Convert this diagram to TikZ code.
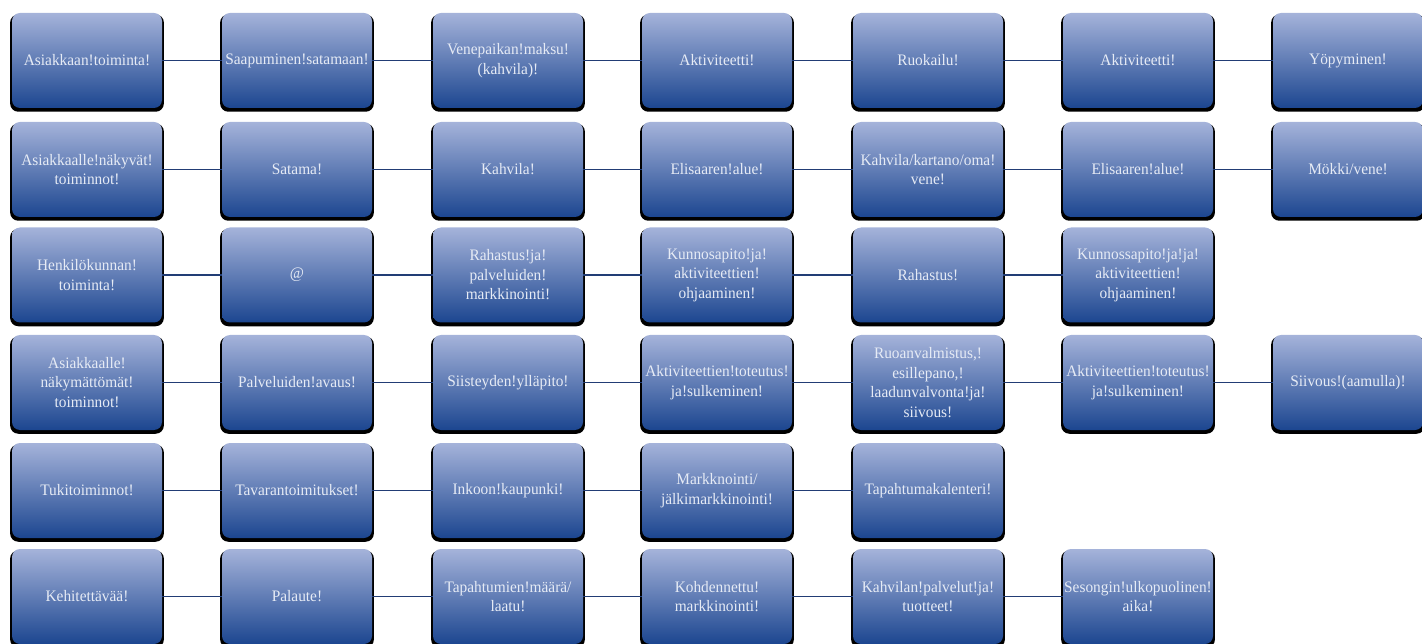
\documentclass[tikz,border=0pt]{standalone}
\usepackage{fontspec}
\setmainfont{Liberation Serif}[FakeStretch=0.96]
\usetikzlibrary{shadows}

\definecolor{boxtop}{HTML}{A5B3DA}
\definecolor{boxbot}{HTML}{1C4690}
\definecolor{boxtext}{HTML}{E6EBF5}
\definecolor{linkcol}{HTML}{223D75}

\tikzset{
  box/.style={rectangle, rounded corners=8pt, minimum width=150pt, minimum height=95pt,
    inner sep=0.5pt, top color=boxtop, bottom color=boxbot, align=center,
    text=boxtext, font=\fontsize{16}{19.5}\selectfont,
    general shadow={fill=black, shadow scale=1.025, shadow yshift=-2.5pt}},
  link/.style={draw=linkcol, line width=1.2pt}
}

\begin{document}
\begin{tikzpicture}[x=1pt, y=-1pt]
  \useasboundingbox (0,0) rectangle (1422,644);

  % Asiakkaan toiminta
  \node[box] (cust1) at (87,60.5)   {Asiakkaan!toiminta!};
  \node[box] (cust2) at (297,60.5)  {Saapuminen!satamaan!};
  \node[box] (cust3) at (508,60.5)  {Venepaikan!maksu!\\(kahvila)!};
  \node[box] (cust4) at (717,60.5)  {Aktiviteetti!};
  \node[box] (cust5) at (928,60.5)  {Ruokailu!};
  \node[box] (cust6) at (1138,60.5) {Aktiviteetti!};
  \node[box] (cust7) at (1348,60.5) {Yöpyminen!};

  % Asiakkaalle näkyvät toiminnot
  \node[box] (vis1) at (87,169.5)   {Asiakkaalle!näkyvät!\\toiminnot!};
  \node[box] (vis2) at (297,169.5)  {Satama!};
  \node[box] (vis3) at (508,169.5)  {Kahvila!};
  \node[box] (vis4) at (717,169.5)  {Elisaaren!alue!};
  \node[box] (vis5) at (928,169.5)  {Kahvila/kartano/oma!\\vene!};
  \node[box] (vis6) at (1138,169.5) {Elisaaren!alue!};
  \node[box] (vis7) at (1348,169.5) {Mökki/vene!};

  % Henkilökunnan toiminta
  \node[box] (staff1) at (87,275)   {Henkilökunnan!\\toiminta!};
  \node[box] (staff2) at (297,275)  {@};
  \node[box] (staff3) at (508,275)  {Rahastus!ja!\\palveluiden!\\markkinointi!};
  \node[box] (staff4) at (717,275)  {Kunnosapito!ja!\\aktiviteettien!\\ohjaaminen!};
  \node[box] (staff5) at (928,275)  {Rahastus!};
  \node[box] (staff6) at (1138,275) {Kunnossapito!ja!ja!\\aktiviteettien!\\ohjaaminen!};

  % Asiakkaalle näkymättömät toiminnot
  \node[box] (back1) at (87,382.5)   {Asiakkaalle!\\näkymättömät!\\toiminnot!};
  \node[box] (back2) at (297,382.5)  {Palveluiden!avaus!};
  \node[box] (back3) at (508,382.5)  {Siisteyden!ylläpito!};
  \node[box] (back4) at (717,382.5)  {Aktiviteettien!toteutus!\\ja!sulkeminen!};
  \node[box] (back5) at (928,382.5)  {Ruoanvalmistus,!\\esillepano,!\\laadunvalvonta!ja!\\siivous!};
  \node[box] (back6) at (1138,382.5) {Aktiviteettien!toteutus!\\ja!sulkeminen!};
  \node[box] (back7) at (1348,382.5) {Siivous!(aamulla)!};

  % Tukitoiminnot
  \node[box] (sup1) at (87,490.5)   {Tukitoiminnot!};
  \node[box] (sup2) at (297,490.5)  {Tavarantoimitukset!};
  \node[box] (sup3) at (508,490.5)  {Inkoon!kaupunki!};
  \node[box] (sup4) at (717,490.5)  {Markknointi/\\jälkimarkkinointi!};
  \node[box] (sup5) at (928,490.5)  {Tapahtumakalenteri!};

  % Kehitettävää
  \node[box] (dev1) at (87,596.5)   {Kehitettävää!};
  \node[box] (dev2) at (297,596.5)  {Palaute!};
  \node[box] (dev3) at (508,596.5)  {Tapahtumien!määrä/\\laatu!};
  \node[box] (dev4) at (717,596.5)  {Kohdennettu!\\markkinointi!};
  \node[box] (dev5) at (928,596.5)  {Kahvilan!palvelut!ja!\\tuotteet!};
  \node[box] (dev6) at (1138,596.5) {Sesongin!ulkopuolinen!\\aika!};

  % Connectors
  \draw[link] (cust1) -- (cust2) (cust2) -- (cust3) (cust3) -- (cust4)
    (cust4) -- (cust5) (cust5) -- (cust6) (cust6) -- (cust7);
  \draw[link] (vis1) -- (vis2) (vis2) -- (vis3) (vis3) -- (vis4)
    (vis4) -- (vis5) (vis5) -- (vis6) (vis6) -- (vis7);
  \draw[link] (staff1) -- (staff2) (staff2) -- (staff3) (staff3) -- (staff4)
    (staff4) -- (staff5) (staff5) -- (staff6);
  \draw[link] (back1) -- (back2) (back2) -- (back3) (back3) -- (back4)
    (back4) -- (back5) (back5) -- (back6) (back6) -- (back7);
  \draw[link] (sup1) -- (sup2) (sup2) -- (sup3) (sup3) -- (sup4)
    (sup4) -- (sup5);
  \draw[link] (dev1) -- (dev2) (dev2) -- (dev3) (dev3) -- (dev4)
    (dev4) -- (dev5) (dev5) -- (dev6);
\end{tikzpicture}
\end{document}
